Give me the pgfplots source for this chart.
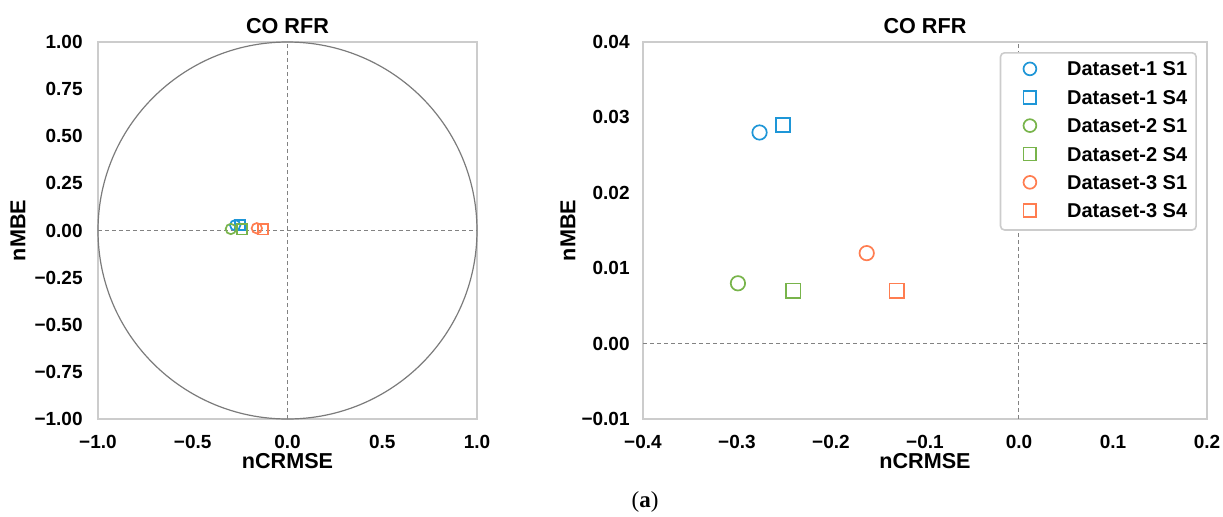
\documentclass[border=0pt]{standalone}
\usepackage{fontspec}
\setmainfont{Liberation Sans}
\newfontfamily\capserif{Liberation Serif}
\usepackage{pgfplots}
\pgfplotsset{compat=1.18}

\definecolor{cblue}{RGB}{30,150,215}
\definecolor{cgreen}{RGB}{120,180,75}
\definecolor{corange}{RGB}{255,125,80}
\definecolor{framegray}{RGB}{204,204,204}
\definecolor{refgray}{RGB}{130,130,130}

\newcommand\labfont{\bfseries\fontsize{10.8}{13}\selectfont}

\pgfplotsset{
  cmp/.style={
    scale only axis, height=188.5pt, clip=false,
    axis line style={framegray, line width=0.8pt},
    major tick length=0pt, tick style={draw=none},
    scaled ticks=false,
    tick label style={font=\bfseries\fontsize{9.5}{11}\selectfont, inner sep=0pt},
    xticklabel style={anchor=north, yshift=-7.75pt},
    xlabel style={at={(0.5,0)}, anchor=center, yshift=-21pt, inner sep=0pt, font=\labfont},
    xlabel={nCRMSE},
  },
  refline/.style={color=refgray, dash pattern=on 2pt off 1.5pt, line width=0.5pt, forget plot},
  mk/.style={only marks, mark options={solid, line width=0.85pt}},
  d1s1/.style={mk, color=cblue, mark=o},
  d1s4/.style={mk, color=cblue, mark=square},
  d2s1/.style={mk, color=cgreen, mark=o},
  d2s4/.style={mk, color=cgreen, mark=square},
  d3s1/.style={mk, color=corange, mark=o},
  d3s4/.style={mk, color=corange, mark=square},
}

\begin{document}
\begin{tikzpicture}
\useasboundingbox (0,0) rectangle (611.5pt,258pt);

% left: full circle view
\begin{axis}[cmp,
    at={(49pt,48.5pt)}, anchor=south west, width=189.5pt,
    xmin=-1, xmax=1, ymin=-1, ymax=1,
    xtick={-1,-0.5,0,0.5,1},
    xticklabels={−1.0,−0.5,0.0,0.5,1.0},
    ytick={-1,-0.75,-0.5,-0.25,0,0.25,0.5,0.75,1},
    yticklabels={−1.00,−0.75,−0.50,−0.25,0.00,0.25,0.50,0.75,1.00},
    yticklabel style={anchor=east, xshift=-7.5pt},
    every axis plot/.append style={mark size=2.6pt},
]
\draw[color=refgray!95!black, line width=0.6pt] (axis cs:0,0) ellipse [x radius=1, y radius=1];
\addplot[refline] coordinates {(-1,0) (1,0)};
\addplot[refline] coordinates {(0,-1) (0,1)};
\addplot[d1s1] coordinates {(-0.276,0.028)};
\addplot[d1s4] coordinates {(-0.251,0.029)};
\addplot[d2s1] coordinates {(-0.299,0.008)};
\addplot[d2s4] coordinates {(-0.240,0.007)};
\addplot[d3s1] coordinates {(-0.162,0.012)};
\addplot[d3s4] coordinates {(-0.130,0.007)};
\node[anchor=base, inner sep=0pt, font=\labfont]
  at ([yshift=4.1pt]axis description cs:0.5,1) {CO RFR};
\node[rotate=90, anchor=center, inner sep=0pt, font=\labfont]
  at ([xshift=-40pt]axis description cs:0,0.5) {nMBE};
\end{axis}

% right: zoomed view
\begin{axis}[cmp,
    at={(321.5pt,48.5pt)}, anchor=south west, width=282pt,
    xmin=-0.4, xmax=0.2, ymin=-0.01, ymax=0.04,
    xtick={-0.4,-0.3,-0.2,-0.1,0,0.1,0.2},
    xticklabels={−0.4,−0.3,−0.2,−0.1,0.0,0.1,0.2},
    ytick={-0.01,0,0.01,0.02,0.03,0.04},
    yticklabels={−0.01,0.00,0.01,0.02,0.03,0.04},
    yticklabel style={anchor=east, xshift=-6.5pt},
    every axis plot/.append style={mark size=3.6pt},
    legend cell align=left,
    legend style={at={(1,1)}, anchor=north east, xshift=-5pt, yshift=-5pt,
      draw=framegray, line width=0.8pt, rounded corners=2pt,
      inner xsep=4.5pt, inner ysep=4.6pt, row sep=5.7pt, column sep=0pt,
      font=\bfseries\fontsize{10}{12}\selectfont, nodes={inner sep=0pt}},
    legend image code/.code={%
      \path (0pt,0pt) (28pt,0pt);
      \draw[sharp corners,#1,mark size=3.2pt] plot coordinates {(9.8pt,0.8pt)};},
]
\addplot[refline] coordinates {(-0.4,0) (0.2,0)};
\addplot[refline] coordinates {(0,-0.01) (0,0.04)};
\addplot[d1s1] coordinates {(-0.276,0.028)};
\addlegendentry{Dataset-1 S1}
\addplot[d1s4] coordinates {(-0.251,0.029)};
\addlegendentry{Dataset-1 S4}
\addplot[d2s1] coordinates {(-0.299,0.008)};
\addlegendentry{Dataset-2 S1}
\addplot[d2s4] coordinates {(-0.240,0.007)};
\addlegendentry{Dataset-2 S4}
\addplot[d3s1] coordinates {(-0.162,0.012)};
\addlegendentry{Dataset-3 S1}
\addplot[d3s4] coordinates {(-0.130,0.007)};
\addlegendentry{Dataset-3 S4}
\node[anchor=base, inner sep=0pt, font=\labfont]
  at ([yshift=4.1pt]axis description cs:0.5,1) {CO RFR};
\node[rotate=90, anchor=center, inner sep=0pt, font=\labfont]
  at ([xshift=-37.5pt]axis description cs:0,0.5) {nMBE};
\end{axis}

\node[font=\capserif\fontsize{11.5}{13}\selectfont] at (322.5pt,7pt) {(\textbf{a})};
\end{tikzpicture}
\end{document}
